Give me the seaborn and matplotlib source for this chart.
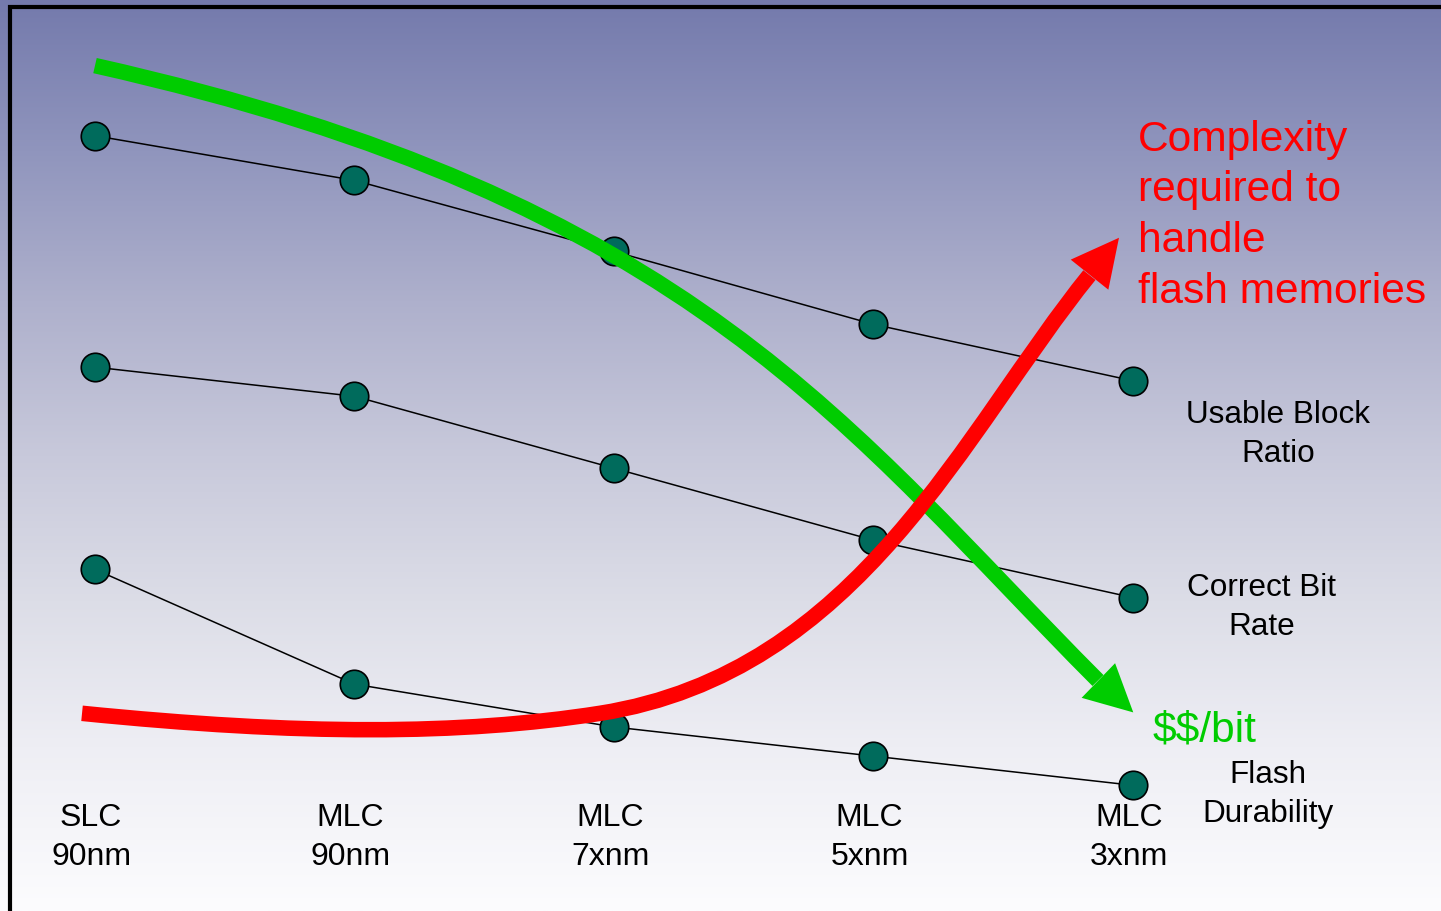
import numpy as np
import pandas as pd
import matplotlib
matplotlib.use("Agg")
import matplotlib.pyplot as plt
from matplotlib.path import Path
from matplotlib.patches import PathPatch, Polygon, Rectangle
import seaborn as sns

# ---------------- data ----------------
categories = ["SLC\n90nm", "MLC\n90nm", "MLC\n7xnm", "MLC\n5xnm", "MLC\n3xnm"]
usable_block_ratio = [85.1, 80.2, 72.4, 64.4, 58.2]
correct_bit_rate = [59.7, 56.5, 48.6, 40.7, 34.4]
flash_durability = [37.5, 24.9, 20.2, 17.0, 13.8]
series_labels = ["Usable Block\nRatio", "Correct Bit\nRate", "Flash\nDurability"]

# trend arrows: bezier control points (data units)
cost_curve_x = [0.0, 2.312, 2.902, 3.865]
cost_curve_y = [92.8, 78.0, 52.8, 25.3]
cost_head_x = [4.001, 3.802, 3.931]
cost_head_y = [21.8, 23.4, 27.2]
complexity_curve_x = [-0.050, 0.790, 1.407, 1.946, 2.948, 3.349, 3.832]
complexity_curve_y = [21.7, 19.3, 19.3, 21.7, 26.2, 52.8, 69.8]
complexity_head_x = [3.946, 3.760, 3.905]
complexity_head_y = [73.9, 71.5, 68.2]

# ---------------- style ----------------
sns.set_style("white")
plt.rcParams["font.family"] = ["Liberation Sans", "DejaVu Sans"]

W, H, DPI = 1441, 911, 100
fig = plt.figure(figsize=(W / DPI, H / DPI), dpi=DPI)

# gradient background
bg = fig.add_axes([0, 0, 1, 1], zorder=0)
stops_f = [0.0, 0.165, 0.33, 0.5, 0.66, 0.82, 1.0]
stops_c = np.array([
    [116, 122, 172], [144, 149, 189], [174, 176, 204], [200, 201, 219],
    [220, 221, 231], [238, 238, 244], [252, 252, 254]]) / 255.0
fr = np.linspace(0, 1, 512)
grad = np.stack([np.interp(fr, stops_f, stops_c[:, k]) for k in range(3)], axis=-1)
grad = np.repeat(grad[:, None, :], 4, axis=1)
bg.imshow(grad, aspect="auto", extent=[0, 1, 0, 1], origin="upper")
bg.set_axis_off()

# border
fig.patches.append(Rectangle((9.5, -20), W + 40, H - 7 + 20, transform=None,
                             fill=False, edgecolor="black", lw=3.0, zorder=1))

ax = fig.add_axes([0, 0, 1, 1], zorder=2)
ax.patch.set_alpha(0)
ax.set_xlim(-95 / 259.5, (W - 95) / 259.5)
ax.set_ylim(0, 100)

x = np.arange(len(categories))
df = pd.DataFrame({
    "x": np.tile(x, 3),
    "value": usable_block_ratio + correct_bit_rate + flash_durability,
    "series": np.repeat(series_labels, len(categories)),
})
for name in series_labels:
    sub = df[df["series"] == name]
    sns.lineplot(data=sub, x="x", y="value", ax=ax, color="black", lw=1.1,
                 marker="o", markersize=20.5, markerfacecolor="#006B5C",
                 markeredgecolor="black", markeredgewidth=1.2, zorder=3,
                 legend=False)

LW = 11.2
# green trend ($$/bit)
gpath = Path(np.column_stack([cost_curve_x, cost_curve_y]),
             [Path.MOVETO, Path.CURVE4, Path.CURVE4, Path.CURVE4])
ax.add_patch(PathPatch(gpath, fill=False, edgecolor="#00CC00", lw=LW,
                       capstyle="butt", zorder=4))
ax.add_patch(Polygon(np.column_stack([cost_head_x, cost_head_y]), closed=True,
                     facecolor="#00CC00", edgecolor="none", zorder=4))

# red trend (complexity)
rpath = Path(np.column_stack([complexity_curve_x, complexity_curve_y]),
             [Path.MOVETO] + [Path.CURVE4] * 6)
ax.add_patch(PathPatch(rpath, fill=False, edgecolor="#FF0000", lw=LW,
                       capstyle="butt", zorder=5))
ax.add_patch(Polygon(np.column_stack([complexity_head_x, complexity_head_y]),
                     closed=True, facecolor="#FF0000", edgecolor="none", zorder=5))

LS = 1.37
# category labels
for i, lab in enumerate(categories):
    ax.text(i - 0.015, 8.05, lab, ha="center", va="center", fontsize=23,
            linespacing=LS, color="black", zorder=6)

# series labels
label_pos = [(4.559, 52.3), (4.497, 33.3), (4.520, 12.8)]
for (lx, ly), lab in zip(label_pos, series_labels):
    ax.text(lx, ly, lab, ha="center", va="center", fontsize=22.7,
            linespacing=LS, color="black", zorder=6)

ax.text(4.077, 19.8, r"\$\$/bit", ha="left", va="center", fontsize=30.6,
        color="#00CC00", zorder=6)
ax.text(4.019, 76.3, "Complexity\nrequired to\nhandle\nflash memories",
        ha="left", va="center", fontsize=30.6, linespacing=1.35,
        color="#FF0000", zorder=6)

ax.set_axis_off()
fig.savefig("out.png", dpi=DPI)
